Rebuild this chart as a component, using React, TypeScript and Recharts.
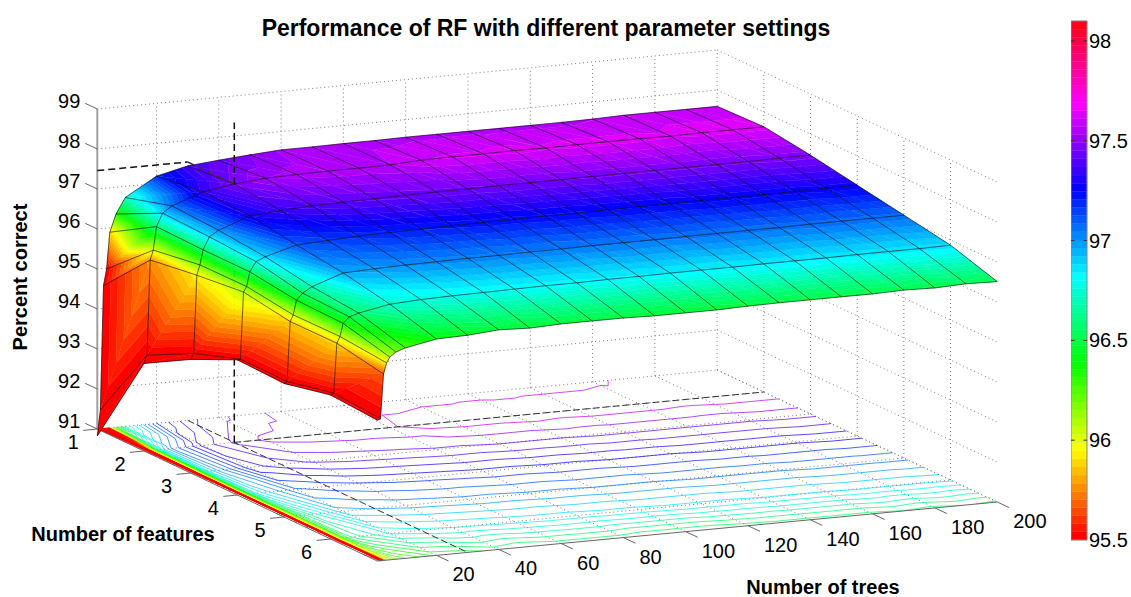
import { ScatterChart, ComposedChart, Scatter, XAxis, YAxis, ReferenceArea, ReferenceLine } from 'recharts'

// number of trees at each mesh row
const trees = [1, 2, 3, 4, 5, 7, 10, 20, 30, 40, 50, 60, 70, 80, 90, 100, 110, 120, 130, 140, 150, 160, 170, 180, 190, 200]
const features = [1, 2, 3, 4, 5, 6, 7]

// percent correct, one list per number of features
const pctF1 = [90.83, 91.47, 94.57, 94.98, 95.89, 96.33, 96.72, 97.18, 97.36, 97.43, 97.49, 97.54, 97.54, 97.55, 97.55, 97.56, 97.56, 97.56, 97.56, 97.56, 97.56, 97.57, 97.59, 97.59, 97.59, 97.59]
const pctF2 = [93.19, 93.39, 95.76, 96.0, 96.58, 96.9, 97.06, 97.34, 97.46, 97.53, 97.55, 97.56, 97.56, 97.57, 97.61, 97.62, 97.62, 97.63, 97.62, 97.63, 97.63, 97.63, 97.62, 97.63, 97.63, 97.63]
const pctF3 = [93.84, 93.98, 95.93, 96.18, 96.55, 96.86, 97.0, 97.29, 97.35, 97.39, 97.41, 97.42, 97.43, 97.44, 97.44, 97.45, 97.45, 97.45, 97.46, 97.46, 97.46, 97.46, 97.46, 97.46, 97.47, 97.47]
const pctF4 = [94.38, 94.39, 96.06, 96.19, 96.55, 96.79, 96.89, 97.11, 97.15, 97.18, 97.2, 97.21, 97.22, 97.23, 97.23, 97.24, 97.24, 97.25, 97.25, 97.25, 97.26, 97.26, 97.26, 97.26, 97.27, 97.27]
const pctF5 = [94.34, 94.38, 95.87, 96.03, 96.39, 96.55, 96.69, 96.96, 96.99, 97.01, 97.02, 97.03, 97.03, 97.04, 97.04, 97.05, 97.05, 97.05, 97.06, 97.06, 97.06, 97.06, 97.07, 97.07, 97.07, 97.07]
const pctF6 = [94.6, 94.64, 95.88, 96.04, 96.36, 96.51, 96.58, 96.73, 96.77, 96.79, 96.8, 96.81, 96.82, 96.82, 96.83, 96.83, 96.84, 96.84, 96.84, 96.85, 96.85, 96.85, 96.86, 96.86, 96.86, 96.87]
const pctF7 = [94.52, 94.55, 95.66, 95.93, 96.07, 96.18, 96.26, 96.41, 96.43, 96.49, 96.46, 96.49, 96.49, 96.49, 96.47, 96.47, 96.47, 96.49, 96.5, 96.5, 96.5, 96.5, 96.52, 96.5, 96.53, 96.51]
const pct = [pctF1, pctF2, pctF3, pctF4, pctF5, pctF6, pctF7]

const treeTicks = [20, 40, 60, 80, 100, 120, 140, 160, 180, 200]
const featureTicks = [1, 2, 3, 4, 5, 6]
const pctTicks = [91, 92, 93, 94, 95, 96, 97, 98, 99]
const barTicks = [95.5, 96, 96.5, 97, 97.5, 98]

// best setting, marked with the dashed lines
const bestTrees = 30
const bestFeatures = 2
const bestPct = 97.46

const C_MIN = 95.5
const C_MAX = 98.1
const BANDS = 64
const LEVEL_TOP = 97.58
const LEVEL_STEP = 0.066

const FONT = '"Liberation Sans", Arial, sans-serif'

type Pt = [number, number]
type Mark = { x: number; y: number; d: string; fill?: string; stroke?: string; sw?: number; dash?: string; op?: number }

// orthographic view of the box, in chart units
const project = (t: number, f: number, z: number): Pt => [
  97.3 + 3.115 * (t - 1) + 46.67 * (f - 1),
  429 - 0.2965 * (t - 1) + 22 * (f - 1) - 40 * (z - 91),
]

function hsv(h: number) {
  const i = Math.floor(h * 6)
  const q = h * 6 - i
  const v = [
    [1, q, 0],
    [1 - q, 1, 0],
    [0, 1, q],
    [0, 1 - q, 1],
    [q, 0, 1],
    [1, 0, 1 - q],
  ][i % 6]
  return `rgb(${v.map((c) => Math.round(c * 255)).join(',')})`
}

const bandOf = (z: number) => Math.max(0, Math.min(BANDS - 1, Math.floor(((z - C_MIN) / (C_MAX - C_MIN)) * BANDS)))
const bandColor = (k: number) => hsv(k / BANDS)
const bandLow = (k: number) => C_MIN + (k * (C_MAX - C_MIN)) / BANDS

function mark(paths: Pt[][], style: Omit<Mark, 'x' | 'y' | 'd'>, close = false): Mark {
  const [x, y] = paths[0][0]
  const d = paths
    .map((p) => p.map((q, i) => `${i ? 'L' : 'M'}${(q[0] - x).toFixed(1)} ${(q[1] - y).toFixed(1)}`).join('') + (close ? 'Z' : ''))
    .join('')
  return { x, y, d, ...style }
}

const line = (a: Pt, b: Pt, style: Omit<Mark, 'x' | 'y' | 'd'>) => mark([[a, b]], style)

// walls and floor grid
function gridMarks() {
  const out: Mark[] = []
  const s = { stroke: '#7d7d7d', sw: 1, dash: '1 3' }
  const fT = [2, 3, 4, 5, 6]
  for (const t of treeTicks) {
    out.push(line(project(t, 1, 91), project(t, 7, 91), s))
    out.push(line(project(t, 1, 91), project(t, 1, 99), s))
  }
  for (const f of fT) {
    out.push(line(project(1, f, 91), project(200, f, 91), s))
    out.push(line(project(200, f, 91), project(200, f, 99), s))
  }
  for (const z of pctTicks) {
    out.push(line(project(1, 1, z), project(200, 1, z), s))
    out.push(line(project(200, 1, z), project(200, 7, z), s))
  }
  return out
}

function axisMarks() {
  const s = { stroke: '#666', sw: 1 }
  const out: Mark[] = [
    line(project(1, 1, 91), project(1, 1, 99), { stroke: '#a0a0a0', sw: 2 }),
    line(project(1, 1, 91), project(1, 7, 91), s),
    line(project(1, 7, 91), project(200, 7, 91), s),
  ]
  for (const z of pctTicks) {
    const a = project(1, 1, z)
    out.push(line(a, [a[0] - 12, a[1] - 5.6], s))
  }
  for (const f of featureTicks) {
    const a = project(1, f, 91)
    out.push(line(a, [a[0] - 14, a[1] + 1.4], s))
  }
  for (const t of treeTicks) {
    const a = project(t, 7, 91)
    out.push(line(a, [a[0] + 12, a[1] + 5.6], s))
  }
  return out
}

// each mesh cell as two triangles: [treeIndex, featureIndex]
const cellTris = (i: number, j: number): [number, number][][] => [
  [[i, j], [i + 1, j], [i + 1, j + 1]],
  [[i, j], [i + 1, j + 1], [i, j + 1]],
]

// c is the colour value: clamped at the vertices, then interpolated over the face
type V = { t: number; f: number; z: number; c: number }
const clampC = (z: number) => Math.max(C_MIN, Math.min(C_MAX, z))
const vert = ([i, j]: [number, number]): V => ({ t: trees[i], f: features[j], z: pct[j][i], c: clampC(pct[j][i]) })
const mix = (a: V, b: V, k: number): V => ({
  t: a.t + (b.t - a.t) * k,
  f: a.f + (b.f - a.f) * k,
  z: a.z + (b.z - a.z) * k,
  c: a.c + (b.c - a.c) * k,
})

// clip a polygon to one side of a colour level
function clip(poly: V[], level: number, keepAbove: boolean) {
  const out: V[] = []
  poly.forEach((a, n) => {
    const b = poly[(n + 1) % poly.length]
    const aIn = keepAbove ? a.c >= level : a.c <= level
    const bIn = keepAbove ? b.c >= level : b.c <= level
    if (aIn) out.push(a)
    if (aIn !== bIn) out.push(mix(a, b, (level - a.c) / (b.c - a.c)))
  })
  return out
}

function surfaceMarks() {
  const out: Mark[] = []
  // far corner first
  for (let i = trees.length - 2; i >= 0; i--) {
    for (let j = 0; j < features.length - 1; j++) {
      for (const tri of cellTris(i, j)) {
        const vs = tri.map(vert)
        const lo = bandOf(Math.min(...vs.map((v) => v.c)))
        const hi = bandOf(Math.max(...vs.map((v) => v.c)))
        for (let k = lo; k <= hi; k++) {
          let poly = vs
          if (k > 0) poly = clip(poly, bandLow(k), true)
          if (k < BANDS - 1 && poly.length) poly = clip(poly, bandLow(k + 1), false)
          if (poly.length < 3) continue
          const color = bandColor(k)
          out.push(mark([poly.map((v) => project(v.t, v.f, v.z))], { fill: color, stroke: color, sw: 0.4 }, true))
        }
      }
    }
  }
  return out
}

function meshMarks() {
  const s = { stroke: '#000', sw: 0.8, op: 0.72 }
  const out: Mark[] = []
  trees.forEach((t, i) => out.push(mark([features.map((f, j) => project(t, f, pct[j][i]))], s)))
  features.forEach((f, j) => out.push(mark([trees.map((t, i) => project(t, f, pct[j][i]))], s)))
  return out
}

function contourMarks() {
  const out: Mark[] = []
  for (let level = LEVEL_TOP; level > 90.9; level -= LEVEL_STEP) {
    const segs: Pt[][] = []
    for (let i = 0; i < trees.length - 1; i++) {
      for (let j = 0; j < features.length - 1; j++) {
        for (const tri of cellTris(i, j)) {
          const vs = tri.map(vert)
          const cuts: Pt[] = []
          vs.forEach((a, n) => {
            const b = vs[(n + 1) % 3]
            if (a.z < level !== b.z < level) {
              const p = mix(a, b, (level - a.z) / (b.z - a.z))
              cuts.push(project(p.t, p.f, 91))
            }
          })
          if (cuts.length === 2) segs.push(cuts)
        }
      }
    }
    if (segs.length) out.push(mark(segs, { stroke: bandColor(bandOf(level)), sw: 1, op: 0.72 }))
  }
  return out
}

const dash = { stroke: '#111', sw: 1.5, dash: '7 4' }
const dashFloor = { stroke: '#333', sw: 1, dash: '7 3' }
const dashBehind: Mark[] = [
  line(project(bestTrees, 1, 91), project(bestTrees, 7, 91), dashFloor),
  line(project(bestTrees, bestFeatures, 91), project(200, bestFeatures, 91), dashFloor),
  line(project(bestTrees, bestFeatures, 91), project(bestTrees, bestFeatures, bestPct), dash),
]
const dashFront: Mark[] = [
  line(project(bestTrees, bestFeatures, bestPct), project(bestTrees, bestFeatures, 99), dash),
  line(project(bestTrees, 1, bestPct), project(bestTrees, bestFeatures, bestPct), { ...dash, stroke: '#333' }),
  line(project(1, 1, bestPct), project(bestTrees, 1, bestPct), dash),
]

type Label = { x: number; y: number; text: string; anchor?: string; size?: number; bold?: boolean; rotate?: number }

function buildLabels() {
  const out: Label[] = [
    { x: 546, y: 28, text: 'Performance of RF with different parameter settings', anchor: 'middle', size: 23, bold: true },
    { x: 20, y: 277, text: 'Percent correct', anchor: 'middle', size: 20, bold: true, rotate: -90 },
    { x: 123, y: 534, text: 'Number of features', anchor: 'middle', size: 20, bold: true },
    { x: 823, y: 587, text: 'Number of trees', anchor: 'middle', size: 20, bold: true },
  ]
  for (const z of pctTicks) {
    const a = project(1, 1, z)
    out.push({ x: a[0] - 17, y: a[1] - 8, text: String(z), anchor: 'end' })
  }
  for (const f of featureTicks) {
    const a = project(1, f, 91)
    out.push({ x: a[0] - 24, y: a[1] + 13, text: String(f), anchor: 'middle' })
  }
  for (const t of treeTicks) {
    const a = project(t, 7, 91)
    out.push({ x: a[0] + 16, y: a[1] + 19, text: String(t), anchor: 'start' })
  }
  return out
}

const layers: Mark[][] = [gridMarks(), contourMarks(), dashBehind, axisMarks(), surfaceMarks(), meshMarks(), dashFront]
const labels = buildLabels()

const MarkShape = (p: any) => {
  const m: Mark = p.payload
  return (
    <path
      transform={`translate(${p.cx},${p.cy})`}
      d={m.d}
      fill={m.fill ?? 'none'}
      stroke={m.stroke}
      strokeWidth={m.sw}
      strokeDasharray={m.dash}
      strokeOpacity={m.op}
    />
  )
}

const LabelShape = (p: any) => {
  const l: Label = p.payload
  return (
    <text
      x={p.cx}
      y={p.cy}
      textAnchor={l.anchor}
      dominantBaseline="central"
      fontFamily={FONT}
      fontSize={l.size ?? 20}
      fontWeight={l.bold ? 'bold' : 'normal'}
      fill="#000"
      transform={l.rotate ? `rotate(${l.rotate} ${p.cx} ${p.cy})` : undefined}
    >
      {l.text}
    </text>
  )
}

const bands = Array.from({ length: BANDS }, (_, k) => k)
const barEnds = [{ x: 0 }, { x: 1 }]

export default function App() {
  return (
    <div style={{ position: 'absolute', left: 0, top: 0, width: 1131, height: 597, background: '#fff', overflow: 'hidden' }}>
      <ScatterChart width={1131} height={597} margin={{ top: 0, right: 0, bottom: 0, left: 0 }} style={{ position: 'absolute', left: 0, top: 0 }}>
        <XAxis type="number" dataKey="x" domain={[0, 1131]} hide />
        <YAxis type="number" dataKey="y" domain={[0, 597]} reversed hide />
        {layers.map((data, n) => (
          <Scatter key={n} data={data} shape={MarkShape} isAnimationActive={false} />
        ))}
        <Scatter data={labels} shape={LabelShape} isAnimationActive={false} />
      </ScatterChart>
      <ComposedChart
        data={barEnds}
        width={60}
        height={597}
        margin={{ top: 21, right: 0, bottom: 57, left: 0 }}
        style={{ position: 'absolute', left: 1071, top: 0 }}
      >
        <XAxis type="number" dataKey="x" domain={[0, 1]} hide />
        <YAxis
          type="number"
          orientation="right"
          width={44}
          domain={[C_MIN, C_MAX]}
          ticks={barTicks}
          interval={0}
          tick={{ fontSize: 20, fontFamily: FONT, fill: '#000' }}
          tickLine={false}
          tickSize={0}
          tickMargin={2}
          axisLine={false}
          allowDataOverflow
        />
        {bands.map((k) => (
          <ReferenceArea key={k} x1={0} x2={1} y1={bandLow(k)} y2={bandLow(k + 1)} fill={bandColor(k)} fillOpacity={1} stroke={bandColor(k)} strokeWidth={0.3} ifOverflow="visible" />
        ))}
        <ReferenceArea x1={0} x2={1} y1={C_MIN} y2={C_MAX} fill="none" stroke="#8a8a8a" strokeWidth={1} ifOverflow="visible" />
        {barTicks.slice(1).map((v) => (
          <ReferenceLine key={`l${v}`} segment={[{ x: 0, y: v }, { x: 0.22, y: v }]} stroke="#333" ifOverflow="visible" />
        ))}
        {barTicks.slice(1).map((v) => (
          <ReferenceLine key={`r${v}`} segment={[{ x: 0.78, y: v }, { x: 1, y: v }]} stroke="#333" ifOverflow="visible" />
        ))}
      </ComposedChart>
    </div>
  )
}
